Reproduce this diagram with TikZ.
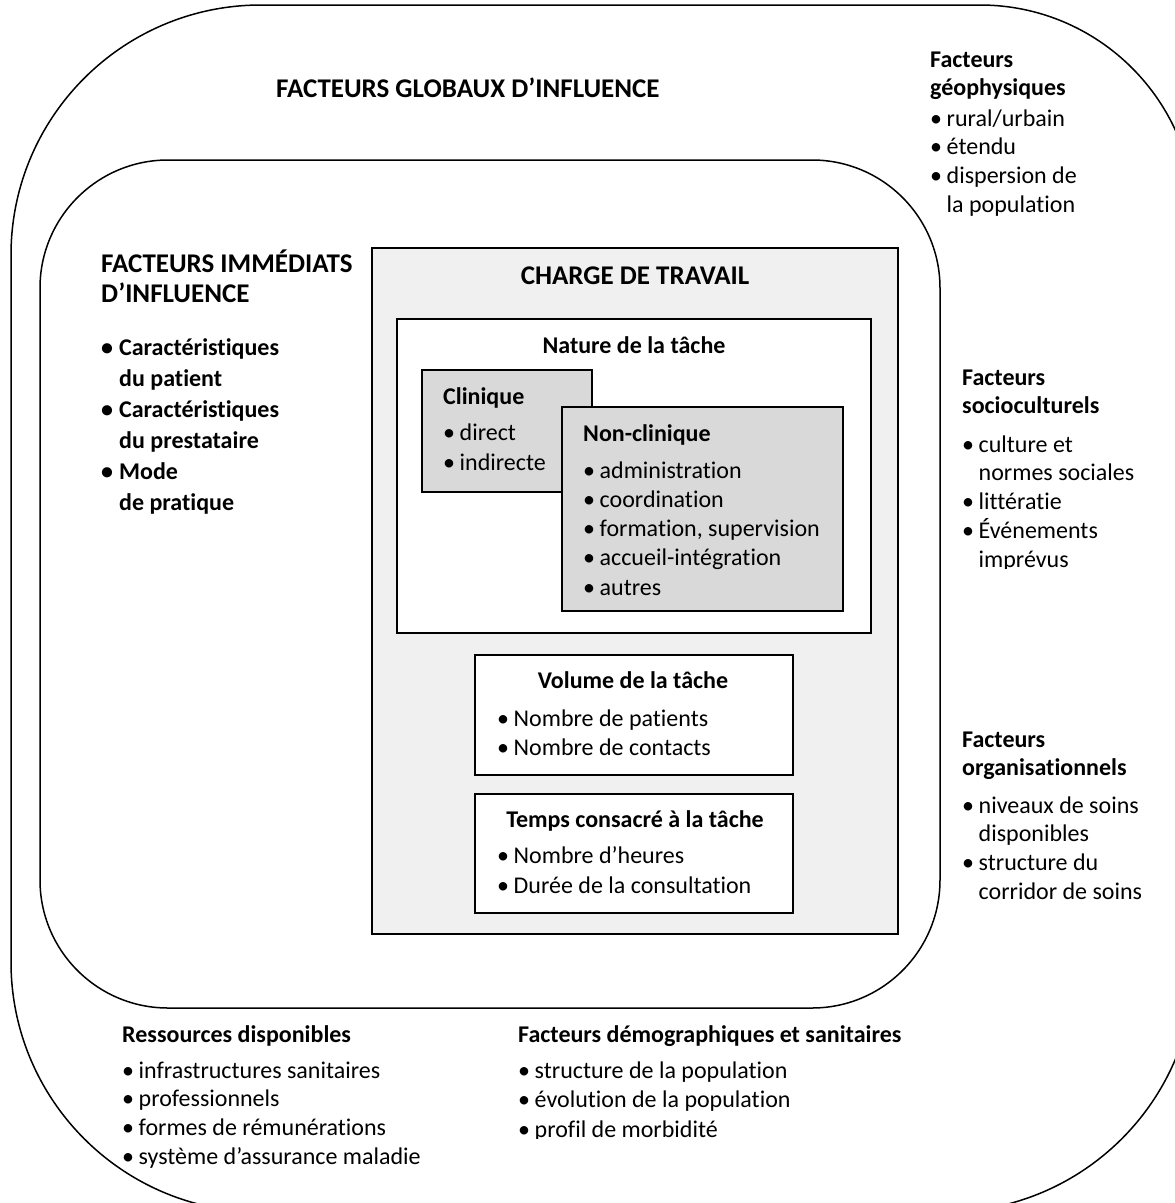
\documentclass[tikz,border=0pt]{standalone}
\usepackage{fontspec}
\setmainfont{Carlito}[Ligatures={TeX,NoCommon}]
\definecolor{chargefill}{HTML}{F0F0F0}
\definecolor{taskfill}{HTML}{D9D9D9}
\newcommand{\bul}[1]{\hbox{\makebox[16.5pt][l]{•}#1}}
\newcommand{\lbul}[1]{\hbox{\makebox[18pt][l]{•}#1}}
\newcommand{\cnt}[1]{\hbox{\hspace*{16.5pt}#1}}
\newcommand{\lcnt}[1]{\hbox{\hspace*{18pt}#1}}
\newcommand{\hd}[1]{\hbox{\bfseries #1}}
\newcommand{\stk}[2]{\vtop{\baselineskip=#1\lineskiplimit=-100pt\lineskip=0pt\relax #2}}
\tikzset{
  curve/.style={draw=black, line width=1.5pt},
  frame/.style={draw=black, line width=1.9pt},
  blk/.style={anchor=base west, inner sep=0pt, font=\fontsize{24}{28.8}\selectfont},
  ttl/.style={inner sep=0pt, font=\fontsize{27}{30}\selectfont\bfseries},
  sub/.style={anchor=base, inner sep=0pt, font=\fontsize{24}{28.8}\selectfont\bfseries},
}
\begin{document}
\begin{tikzpicture}[x=1pt,y=-1pt]
\useasboundingbox (0,0) rectangle (1175,1203);
\clip (0,0) rectangle (1175,1203);
\fill[white] (0,0) rectangle (1175,1203);
% outer rounded frame (global factors)
\draw[curve] (11,255) arc[start angle=180,end angle=270,radius=250]
  -- (980,5) arc[start angle=270,end angle=360,radius=215]
  -- (1195,962) arc[start angle=0,end angle=90,radius=250]
  -- (261,1212) arc[start angle=90,end angle=180,radius=250] -- cycle;
% inner rounded frame (immediate factors)
\draw[curve, rounded corners=128pt] (40,160) rectangle (940,1008);
% workload box
\draw[frame, fill=chargefill] (372,248) rectangle (898,934);
\draw[frame, fill=white] (397,319) rectangle (871,633);
\draw[frame, fill=taskfill] (422,370) rectangle (592,492);
\draw[frame, fill=taskfill] (562,407) rectangle (843,611);
\draw[frame, fill=white] (475,655) rectangle (793,775);
\draw[frame, fill=white] (475,794) rectangle (793,913);

% texts
\node[ttl, anchor=base west] (global) at (276,97) {FACTEURS GLOBAUX D’INFLUENCE};
\node[blk] (geo) at (930,67) {\stk{28.8pt}{\hd{Facteurs}\hd{géophysiques}\vskip1.5pt\bul{rural/urbain}\bul{étendu}\bul{dispersion de}\cnt{la population}}};
\begin{scope}
\clip (900,340) rectangle (1175,568.5);
\node[blk] (socio) at (962,385) {\stk{28.8pt}{\hd{Facteurs}\hd{socioculturels}\vskip9.4pt\bul{culture et}\cnt{normes sociales}\bul{littératie}\bul{Événements}\cnt{imprévus}}};
\end{scope}
\node[blk] (org) at (962,747) {\stk{28.8pt}{\hd{Facteurs}\hd{organisationnels}\vskip8.4pt\bul{niveaux de soins}\cnt{disponibles}\bul{structure du}\cnt{corridor de soins}}};

\node[blk, font=\fontsize{27}{30}\selectfont\bfseries] (immed) at (101,272) {\stk{30pt}{\hbox{FACTEURS IMMÉDIATS}\hbox{D’INFLUENCE}\fontsize{24}{31}\selectfont\vskip22pt\lbul{Caractéristiques}\lcnt{du patient}\lbul{Caractéristiques}\lcnt{du prestataire}\lbul{Mode}\lcnt{de pratique}}};

\node[ttl, anchor=base] (chargetitle) at (635,284) {CHARGE DE TRAVAIL};
\node[sub] (naturetitle) at (634,353) {Nature de la tâche};
\node[blk] (clin) at (443,404) {\stk{30pt}{\hd{Clinique}\vskip6pt\bul{direct}\bul{indirecte}}};
\node[blk] (nonclin) at (583,441) {\stk{29.3pt}{\hd{Non-clinique}\vskip7.7pt\bul{administration}\bul{coordination}\bul{formation, supervision}\bul{accueil-intégration}\bul{autres}}};

\node[sub] (voltitle) at (633,688) {Volume de la tâche};
\node[blk] (vollist) at (497,726) {\stk{29pt}{\bul{Nombre de patients}\bul{Nombre de contacts}}};
\node[sub] (tempstitle) at (635,827) {Temps consacré à la tâche};
\node[blk] (tempslist) at (497,863) {\stk{30pt}{\bul{Nombre d’heures}\bul{Durée de la consultation}}};

\node[blk] (res) at (122,1042) {\stk{28.7pt}{\hd{Ressources disponibles}\vskip7.3pt\bul{infrastructures sanitaires}\bul{professionnels}\bul{formes de rémunérations}\bul{système d’assurance maladie}}};
\begin{scope}
\clip (480,1010) rectangle (960,1138.5);
\node[blk] (demo) at (518,1042) {\stk{29.5pt}{\hd{Facteurs démographiques et sanitaires}\vskip6.5pt\bul{structure de la population}\bul{évolution de la population}\bul{profil de morbidité}}};
\end{scope}
\end{tikzpicture}
\end{document}
